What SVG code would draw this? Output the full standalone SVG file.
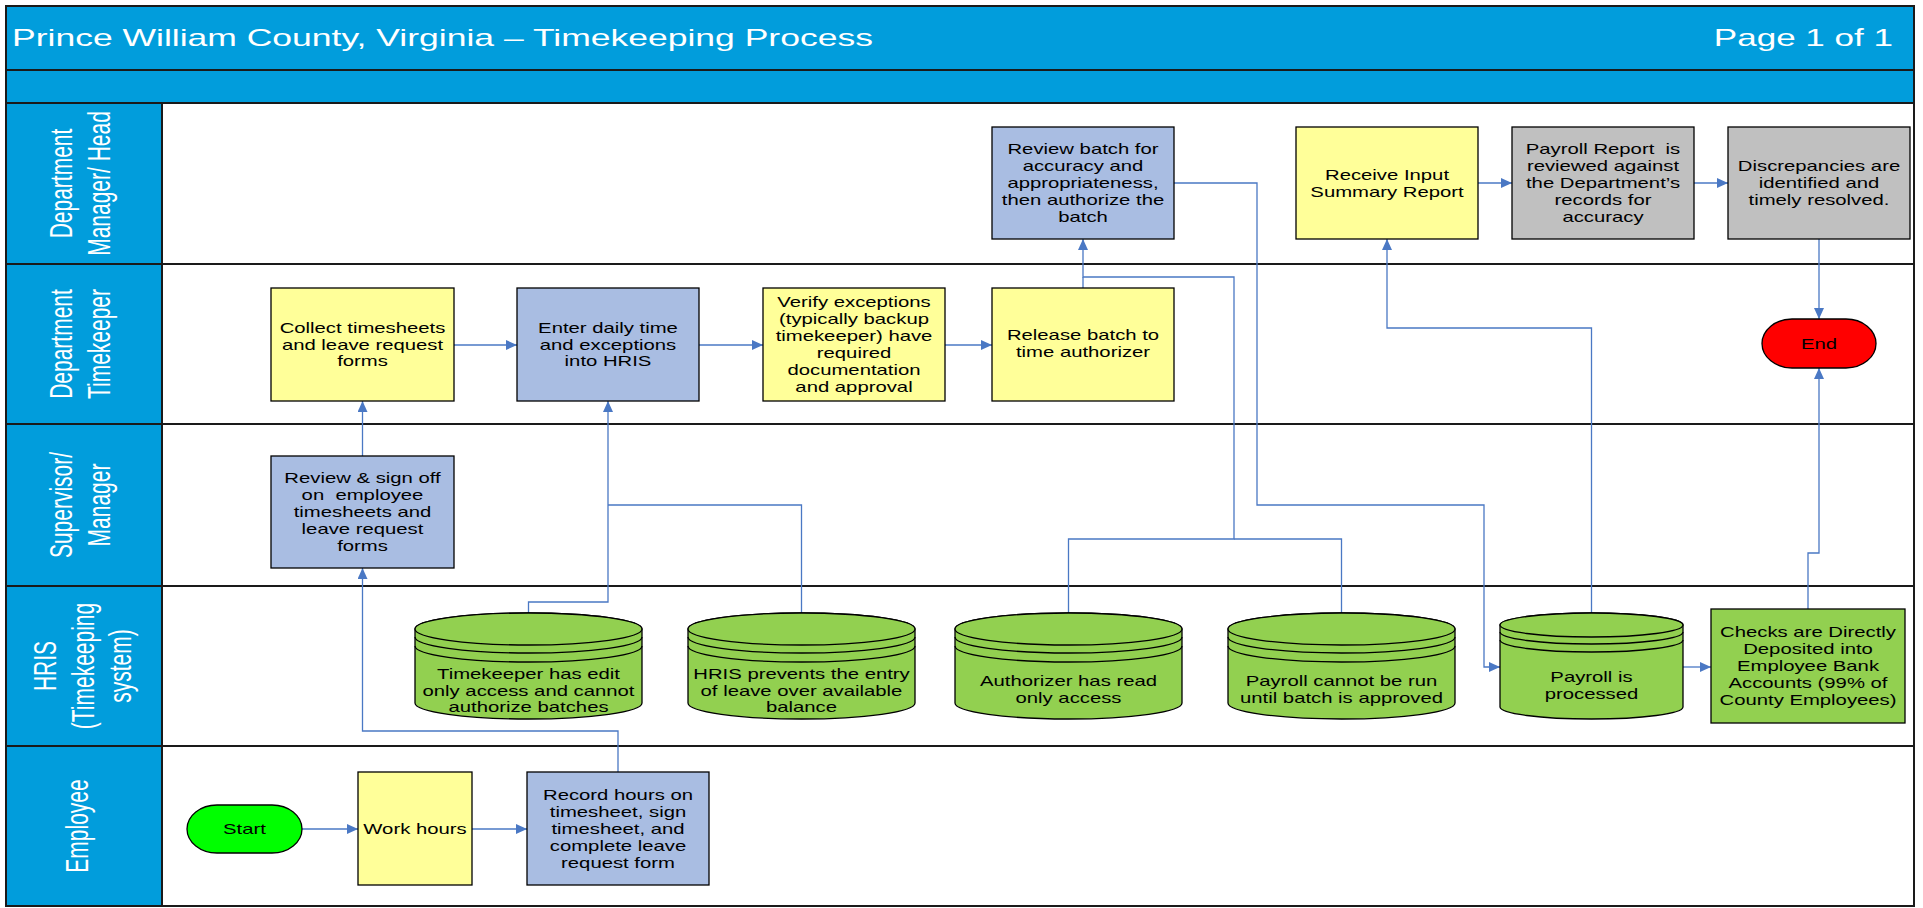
<svg xmlns="http://www.w3.org/2000/svg" width="1923" height="908" viewBox="0 0 1923 908">
<style>
.bar{fill:#019DDC;stroke:#1a1a1a;stroke-width:2}
.sep{stroke:#1a1a1a;stroke-width:2}
.box{stroke:#000;stroke-width:1.3}
.yellow{fill:#FFFF99}
.blue{fill:#A9BDE2}
.gray{fill:#C0C0C0}
.green{fill:#92D050}
.cyl{fill:#92D050;stroke:#000;stroke-width:1.3}
.cl{fill:none;stroke:#000;stroke-width:1.3}
.t{font-family:"Liberation Sans",Arial,Helvetica,sans-serif;font-size:14px;fill:#000;text-anchor:middle}
.lt{font-family:"Liberation Sans",Arial,Helvetica,sans-serif;font-size:21px;fill:#fff;text-anchor:middle}
.tt{font-family:"Liberation Sans",Arial,Helvetica,sans-serif;font-size:24px;fill:#fff}
.conn{fill:none;stroke:#4A78C4;stroke-width:1.3}
</style>
<defs>
<marker id="ah" viewBox="0 0 10 10" refX="10" refY="5" markerWidth="11" markerHeight="10" markerUnits="userSpaceOnUse" orient="auto" preserveAspectRatio="none">
<path d="M0,0 L10,5 L0,10 z" fill="#4A78C4"/>
</marker>
</defs>

<g id="frame">
<rect x="6" y="6" width="1908" height="900" fill="#fff" stroke="#1a1a1a" stroke-width="2"/>
<rect class="bar" x="6" y="6" width="1908" height="64"/>
<rect class="bar" x="6" y="70" width="1908" height="33"/>
<text class="tt" transform="translate(12,46) scale(1.48 1)">Prince William County, Virginia – Timekeeping Process</text>
<text class="tt" text-anchor="end" transform="translate(1893,46) scale(1.46 1)">Page 1 of 1</text>
</g>

<g id="lanes">
<line class="sep" x1="162" y1="264" x2="1914" y2="264"/>
<line class="sep" x1="162" y1="424" x2="1914" y2="424"/>
<line class="sep" x1="162" y1="586" x2="1914" y2="586"/>
<line class="sep" x1="162" y1="746" x2="1914" y2="746"/>
<rect class="bar" x="6" y="103" width="156" height="161"/>
<rect class="bar" x="6" y="264" width="156" height="160"/>
<rect class="bar" x="6" y="424" width="156" height="162"/>
<rect class="bar" x="6" y="586" width="156" height="160"/>
<rect class="bar" x="6" y="746" width="156" height="160"/>
<text class="lt" transform="translate(72,183.5) rotate(-90) scale(1 1.45)"><tspan x="0" y="0">Department</tspan><tspan x="0" y="26.5">Manager/ Head</tspan></text>
<text class="lt" transform="translate(72,344) rotate(-90) scale(1 1.45)"><tspan x="0" y="0">Department</tspan><tspan x="0" y="26.5">Timekeeper</tspan></text>
<text class="lt" transform="translate(72,505) rotate(-90) scale(1 1.45)"><tspan x="0" y="0">Supervisor/</tspan><tspan x="0" y="26.5">Manager</tspan></text>
<text class="lt" transform="translate(56,666) rotate(-90) scale(1 1.45)"><tspan x="0" y="0">HRIS</tspan><tspan x="0" y="26">(Timekeeping</tspan><tspan x="0" y="51.7">system)</tspan></text>
<text class="lt" transform="translate(87.5,826) rotate(-90) scale(1 1.45)">Employee</text>
</g>

<g id="connectors">
<path class="conn" d="M302,829 H358" marker-end="url(#ah)"/>
<path class="conn" d="M472,829 H527" marker-end="url(#ah)"/>
<path class="conn" d="M618,772 V731 H362.5 V568" marker-end="url(#ah)"/>
<path class="conn" d="M362.5,456 V401" marker-end="url(#ah)"/>
<path class="conn" d="M454,345 H517" marker-end="url(#ah)"/>
<path class="conn" d="M699,345 H763" marker-end="url(#ah)"/>
<path class="conn" d="M945,345 H992" marker-end="url(#ah)"/>
<path class="conn" d="M528.5,613 V602 H608 V401" marker-end="url(#ah)"/>
<path class="conn" d="M801.5,613 V505 H608"/>
<path class="conn" d="M1083,288 V277"/>
<path class="conn" d="M1068.5,613 V539 H1234 V277 H1083 V239" marker-end="url(#ah)"/>
<path class="conn" d="M1341.5,613 V539 H1234"/>
<path class="conn" d="M1174,183 H1257 V505 H1484 V667 H1500" marker-end="url(#ah)"/>
<path class="conn" d="M1591.5,613 V328 H1387 V239" marker-end="url(#ah)"/>
<path class="conn" d="M1683,667 H1711" marker-end="url(#ah)"/>
<path class="conn" d="M1808,609 V553 H1819 V368" marker-end="url(#ah)"/>
<path class="conn" d="M1819,239 V319" marker-end="url(#ah)"/>
<path class="conn" d="M1478,183 H1512" marker-end="url(#ah)"/>
<path class="conn" d="M1694,183 H1728" marker-end="url(#ah)"/>
</g>

<g id="review-batch">
<rect class="box blue" x="992" y="127" width="182" height="112"/>
<text class="t" transform="translate(1083,188) scale(1.45 1)"><tspan x="0" y="-34">Review batch for</tspan><tspan x="0" y="-17">accuracy and</tspan><tspan x="0" y="0">appropriateness,</tspan><tspan x="0" y="17">then authorize the</tspan><tspan x="0" y="34">batch</tspan></text>
</g>
<g id="receive-input">
<rect class="box yellow" x="1296" y="127" width="182" height="112"/>
<text class="t" transform="translate(1387,188) scale(1.45 1)"><tspan x="0" y="-8.5">Receive Input</tspan><tspan x="0" y="8.5">Summary Report</tspan></text>
</g>
<g id="payroll-report">
<rect class="box gray" x="1512" y="127" width="182" height="112"/>
<text class="t" xml:space="preserve" transform="translate(1603,188) scale(1.45 1)"><tspan x="0" y="-34">Payroll Report  is</tspan><tspan x="0" y="-17">reviewed against</tspan><tspan x="0" y="0">the Department’s</tspan><tspan x="0" y="17">records for</tspan><tspan x="0" y="34">accuracy</tspan></text>
</g>
<g id="discrepancies">
<rect class="box gray" x="1728" y="127" width="182" height="112"/>
<text class="t" transform="translate(1819,188) scale(1.45 1)"><tspan x="0" y="-17">Discrepancies are</tspan><tspan x="0" y="0">identified and</tspan><tspan x="0" y="17">timely resolved.</tspan></text>
</g>

<g id="collect">
<rect class="box yellow" x="271" y="288" width="183" height="113"/>
<text class="t" transform="translate(362.5,349.5) scale(1.45 1)"><tspan x="0" y="-17">Collect timesheets</tspan><tspan x="0" y="0">and leave request</tspan><tspan x="0" y="17">forms</tspan></text>
</g>
<g id="enter-daily">
<rect class="box blue" x="517" y="288" width="182" height="113"/>
<text class="t" transform="translate(608,349.5) scale(1.45 1)"><tspan x="0" y="-17">Enter daily time</tspan><tspan x="0" y="0">and exceptions</tspan><tspan x="0" y="17">into HRIS</tspan></text>
</g>
<g id="verify">
<rect class="box yellow" x="763" y="288" width="182" height="113"/>
<text class="t" transform="translate(854,349.5) scale(1.45 1)"><tspan x="0" y="-42.5">Verify exceptions</tspan><tspan x="0" y="-25.5">(typically backup</tspan><tspan x="0" y="-8.5">timekeeper) have</tspan><tspan x="0" y="8.5">required</tspan><tspan x="0" y="25.5">documentation</tspan><tspan x="0" y="42.5">and approval</tspan></text>
</g>
<g id="release">
<rect class="box yellow" x="992" y="288" width="182" height="113"/>
<text class="t" transform="translate(1083,348.5) scale(1.45 1)"><tspan x="0" y="-8.5">Release batch to</tspan><tspan x="0" y="8.5">time authorizer</tspan></text>
</g>
<g id="end">
<rect class="box" fill="#FF0000" x="1762" y="319" width="114" height="49" rx="30" ry="24.5"/>
<text class="t" transform="translate(1819,348.5) scale(1.45 1)">End</text>
</g>

<g id="review-signoff">
<rect class="box blue" x="271" y="456" width="183" height="112"/>
<text class="t" xml:space="preserve" transform="translate(362.5,517) scale(1.45 1)"><tspan x="0" y="-34">Review &amp; sign off</tspan><tspan x="0" y="-17">on  employee</tspan><tspan x="0" y="0">timesheets and</tspan><tspan x="0" y="17">leave request</tspan><tspan x="0" y="34">forms</tspan></text>
</g>

<g id="db-timekeeper">
<path class="cyl" d="M415,629 V703 A113.5,16 0 0 0 642,703 V629 A113.5,16 0 0 0 415,629 Z"/>
<ellipse class="cyl" cx="528.5" cy="629" rx="113.5" ry="16"/>
<path class="cl" d="M415,637 A113.5,16 0 0 0 642,637 M415,646 A113.5,16 0 0 0 642,646"/>
<text class="t" transform="translate(528.5,695.5) scale(1.45 1)"><tspan x="0" y="-17">Timekeeper has edit</tspan><tspan x="0" y="0">only access and cannot</tspan><tspan x="0" y="17">authorize batches</tspan></text>
</g>
<g id="db-hris">
<path class="cyl" d="M688,629 V703 A113.5,16 0 0 0 915,703 V629 A113.5,16 0 0 0 688,629 Z"/>
<ellipse class="cyl" cx="801.5" cy="629" rx="113.5" ry="16"/>
<path class="cl" d="M688,637 A113.5,16 0 0 0 915,637 M688,646 A113.5,16 0 0 0 915,646"/>
<text class="t" transform="translate(801.5,695.5) scale(1.45 1)"><tspan x="0" y="-17">HRIS prevents the entry</tspan><tspan x="0" y="0">of leave over available</tspan><tspan x="0" y="17">balance</tspan></text>
</g>
<g id="db-authorizer">
<path class="cyl" d="M955,629 V703 A113.5,16 0 0 0 1182,703 V629 A113.5,16 0 0 0 955,629 Z"/>
<ellipse class="cyl" cx="1068.5" cy="629" rx="113.5" ry="16"/>
<path class="cl" d="M955,637 A113.5,16 0 0 0 1182,637 M955,646 A113.5,16 0 0 0 1182,646"/>
<text class="t" transform="translate(1068.5,694.5) scale(1.45 1)"><tspan x="0" y="-8.5">Authorizer has read</tspan><tspan x="0" y="8.5">only access</tspan></text>
</g>
<g id="db-payroll-cannot">
<path class="cyl" d="M1228,629 V703 A113.5,16 0 0 0 1455,703 V629 A113.5,16 0 0 0 1228,629 Z"/>
<ellipse class="cyl" cx="1341.5" cy="629" rx="113.5" ry="16"/>
<path class="cl" d="M1228,637 A113.5,16 0 0 0 1455,637 M1228,646 A113.5,16 0 0 0 1455,646"/>
<text class="t" transform="translate(1341.5,694.5) scale(1.45 1)"><tspan x="0" y="-8.5">Payroll cannot be run</tspan><tspan x="0" y="8.5">until batch is approved</tspan></text>
</g>
<g id="db-payroll-processed">
<path class="cyl" d="M1500,625 V707 A91.5,12 0 0 0 1683,707 V625 A91.5,12 0 0 0 1500,625 Z"/>
<ellipse class="cyl" cx="1591.5" cy="625" rx="91.5" ry="12"/>
<path class="cl" d="M1500,632 A91.5,12 0 0 0 1683,632 M1500,640 A91.5,12 0 0 0 1683,640"/>
<text class="t" transform="translate(1591.5,690.5) scale(1.45 1)"><tspan x="0" y="-8.5">Payroll is</tspan><tspan x="0" y="8.5">processed</tspan></text>
</g>
<g id="checks">
<rect class="box green" x="1711" y="609" width="194" height="114"/>
<text class="t" transform="translate(1808,671) scale(1.45 1)"><tspan x="0" y="-34">Checks are Directly</tspan><tspan x="0" y="-17">Deposited into</tspan><tspan x="0" y="0">Employee Bank</tspan><tspan x="0" y="17">Accounts (99% of</tspan><tspan x="0" y="34">County Employees)</tspan></text>
</g>

<g id="start">
<rect class="box" fill="#00FF00" x="187" y="805" width="115" height="48" rx="30" ry="24"/>
<text class="t" transform="translate(244.5,834) scale(1.45 1)">Start</text>
</g>
<g id="work-hours">
<rect class="box yellow" x="358" y="772" width="114" height="113"/>
<text class="t" transform="translate(415,834) scale(1.45 1)">Work hours</text>
</g>
<g id="record-hours">
<rect class="box blue" x="527" y="772" width="182" height="113"/>
<text class="t" transform="translate(618,834) scale(1.45 1)"><tspan x="0" y="-34">Record hours on</tspan><tspan x="0" y="-17">timesheet, sign</tspan><tspan x="0" y="0">timesheet, and</tspan><tspan x="0" y="17">complete leave</tspan><tspan x="0" y="34">request form</tspan></text>
</g>
</svg>
